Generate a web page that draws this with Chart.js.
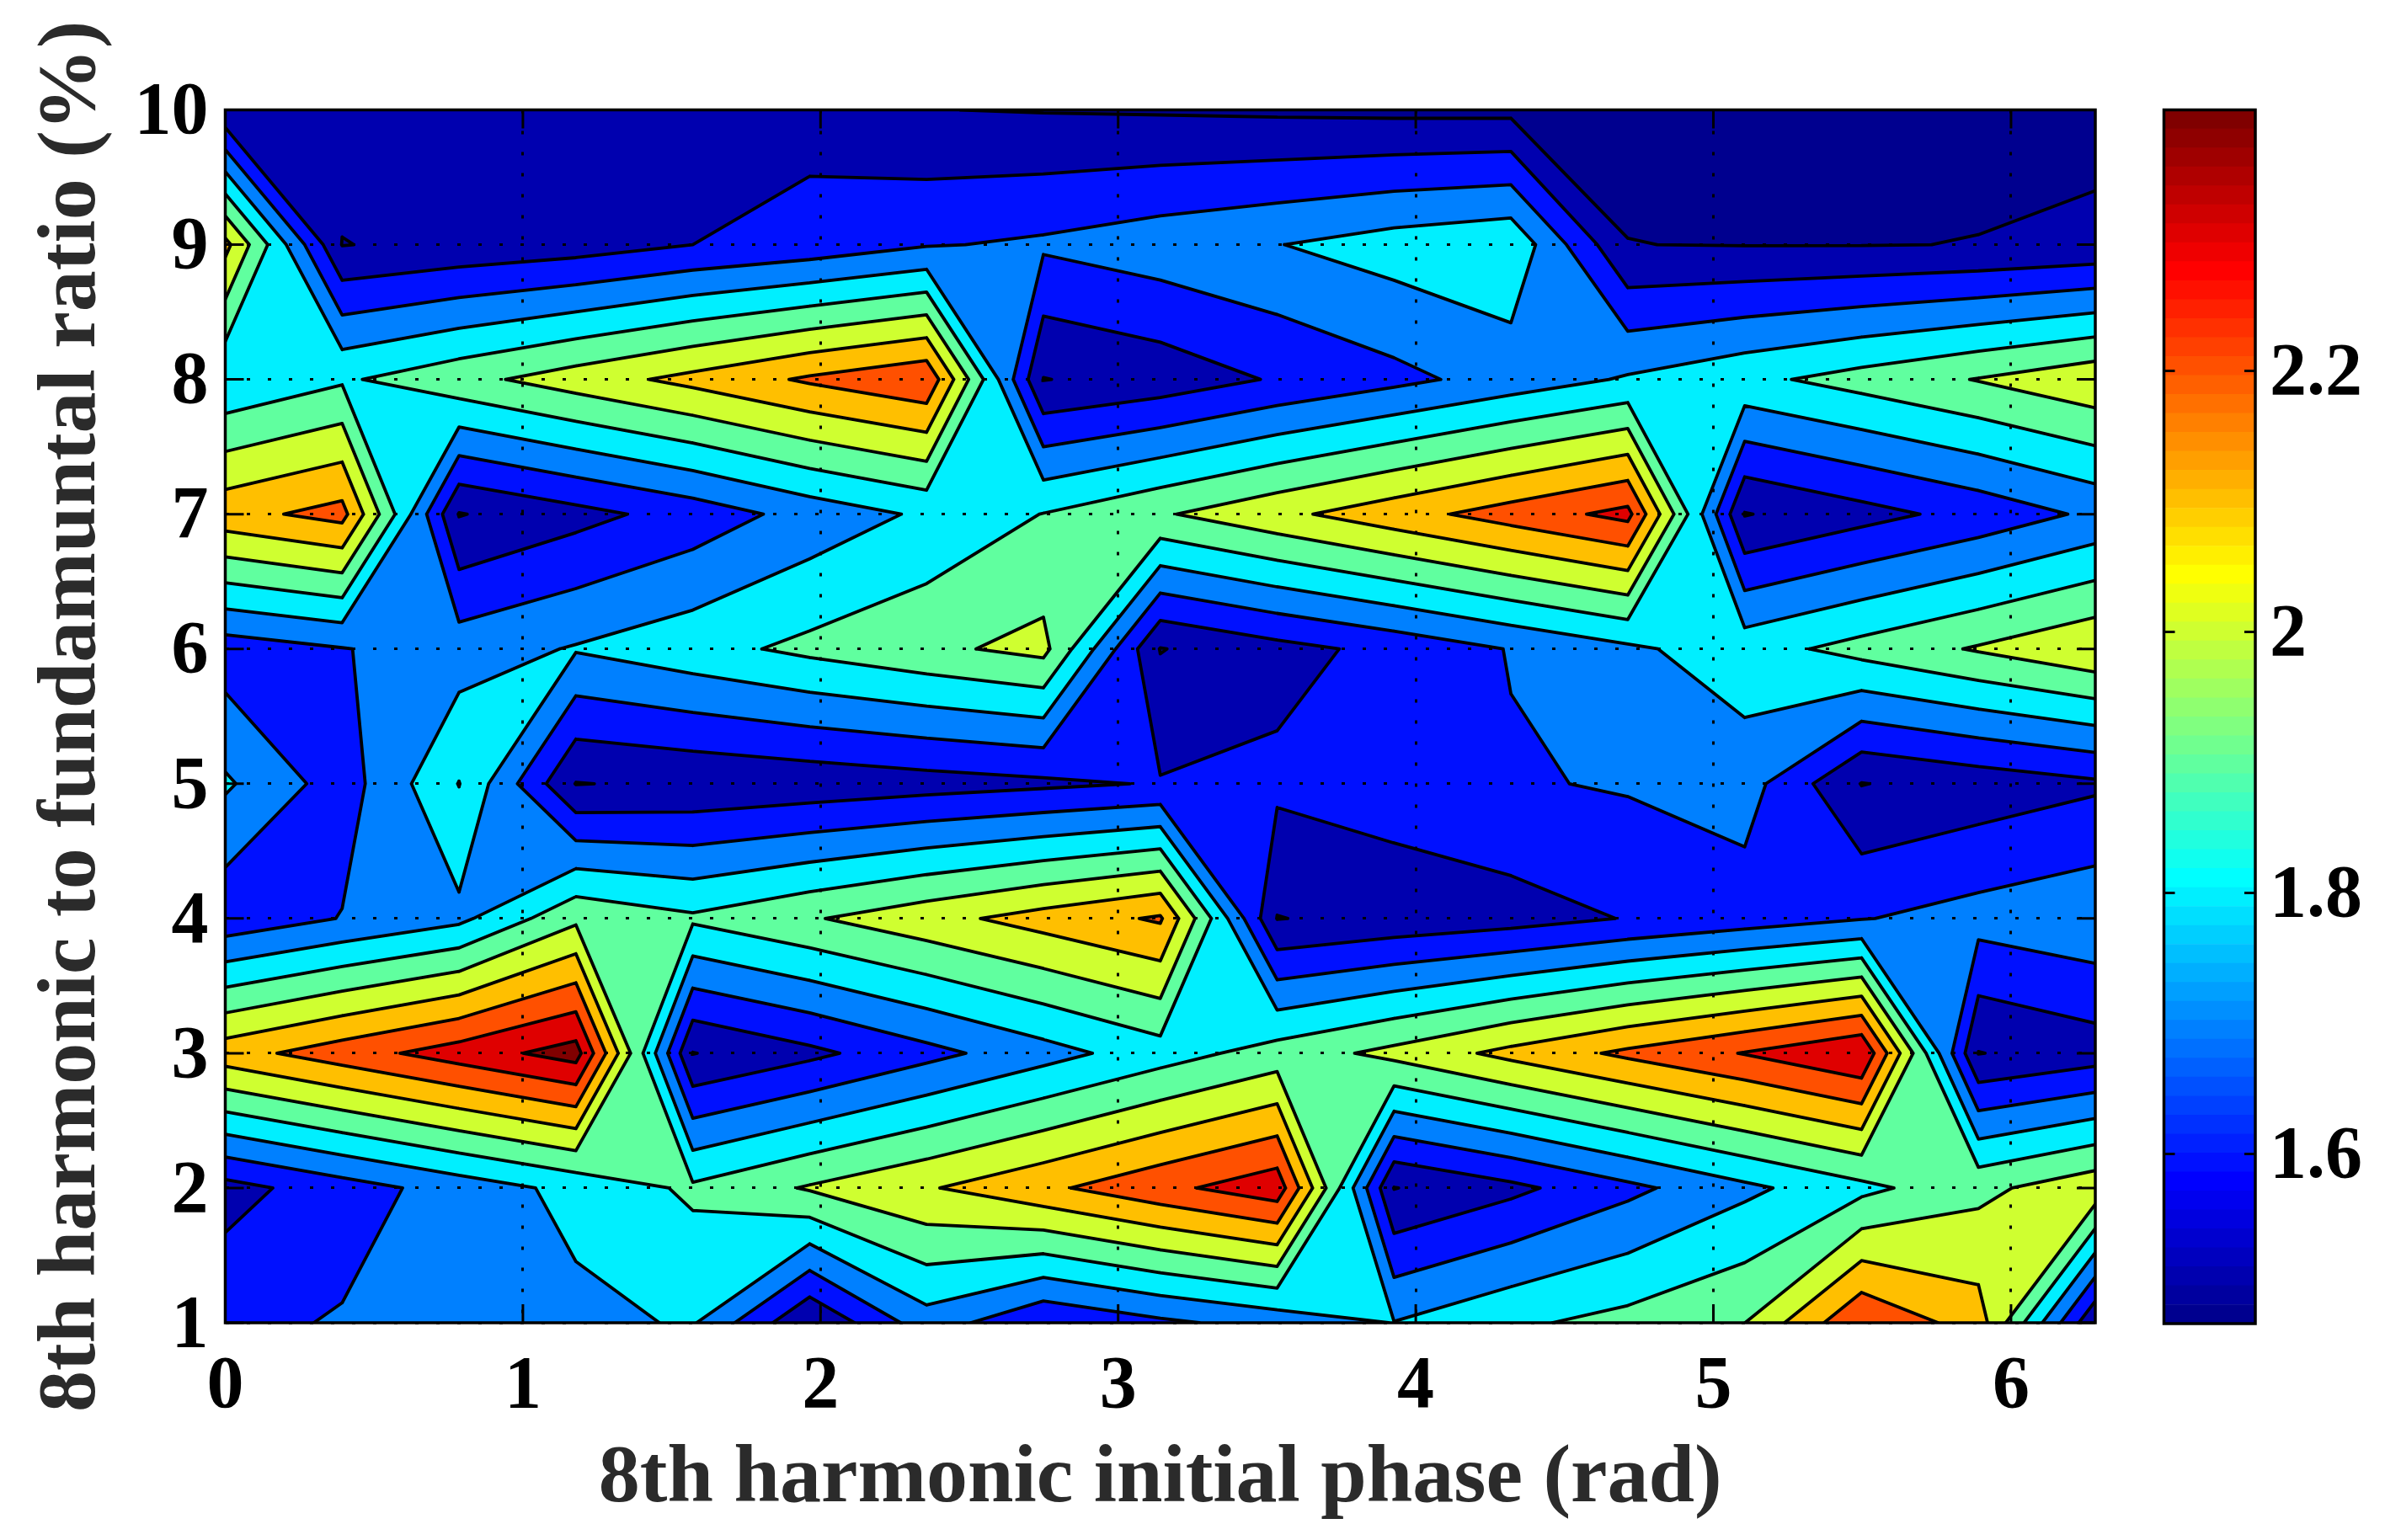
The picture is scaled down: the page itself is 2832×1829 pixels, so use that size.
<!DOCTYPE html>
<html>
<head>
<meta charset="utf-8">
<title>8th harmonic contour</title>
<script src="https://cdn.jsdelivr.net/npm/chart.js@4"></script>
<style>
  html, body { margin: 0; padding: 0; background: #fff; }
  canvas { position: absolute; left: 0; top: 0; }
</style>
</head>
<body>
<canvas id="contour" width="2832" height="1829"></canvas>
<canvas id="colorbar" width="2832" height="1829"></canvas>
<script>
const phases = [0, 0.3927, 0.7854, 1.1781, 1.5708, 1.9635, 2.3562, 2.7489, 3.1416, 3.5343, 3.927, 4.3197, 4.7124, 5.1051, 5.4978, 5.8905, 6.2832];
const ratios = [1, 2, 3, 4, 5, 6, 7, 8, 9, 10];

const ratio1 = [1.675, 1.708, 1.742, 1.775, 1.81, 1.503, 1.756, 1.608, 1.68, 1.74, 1.803, 1.882, 1.933, 1.999, 2.295, 2.15, 1.51];
const ratio2 = [1.563, 1.654, 1.743, 1.83, 1.918, 2.01, 2.09, 2.178, 2.272, 2.362, 1.497, 1.575, 1.675, 1.777, 1.872, 1.973, 2.067];
const ratio3 = [2.158, 2.253, 2.348, 2.443, 1.497, 1.576, 1.669, 1.761, 1.854, 1.943, 2.029, 2.129, 2.221, 2.305, 2.397, 1.497, 1.55];
const ratio4 = [1.63, 1.704, 1.775, 1.978, 1.917, 1.99, 2.065, 2.141, 2.213, 1.497, 1.53, 1.558, 1.605, 1.649, 1.695, 1.738, 1.775];
const ratio5 = [1.815, 1.65, 1.903, 1.497, 1.516, 1.535, 1.558, 1.58, 1.607, 1.622, 1.655, 1.69, 1.71, 1.745, 1.497, 1.54, 1.583];
const ratio6 = [1.645, 1.695, 1.751, 1.808, 1.864, 1.925, 1.978, 2.03, 1.496, 1.566, 1.63, 1.705, 1.78, 1.857, 1.935, 2.01, 2.086];
const ratio7 = [2.165, 2.235, 1.495, 1.567, 1.642, 1.738, 1.817, 1.903, 1.988, 2.074, 2.159, 2.245, 2.33, 1.495, 1.565, 1.635, 1.72];
const ratio8 = [1.81, 1.886, 1.967, 2.05, 2.13, 2.215, 2.283, 1.497, 1.54, 1.61, 1.672, 1.742, 1.811, 1.874, 1.939, 2.005, 2.075];
const ratio9 = [2.13, 1.497, 1.527, 1.552, 1.6, 1.636, 1.692, 1.716, 1.757, 1.797, 1.846, 1.88, 1.501, 1.497, 1.497, 1.502, 1.52];
const ratio10 = [1.52, 1.55, 1.55, 1.55, 1.55, 1.565, 1.502, 1.495, 1.49, 1.483, 1.477, 1.475, 1.48, 1.475, 1.475, 1.475, 1.47];
const grid = [ratio1, ratio2, ratio3, ratio4, ratio5, ratio6, ratio7, ratio8, ratio9, ratio10];

const levels = [1.5, 1.6, 1.7, 1.8, 1.9, 2, 2.1, 2.2, 2.3, 2.4];
const xTicks = [0, 1, 2, 3, 4, 5, 6];
const colorbarTicks = [1.6, 1.8, 2, 2.2];
const colorMin = 1.47;
const colorMax = 2.4;

// saddle cells [col, row, level] where the picture joins the high corners although the mean is low
const joinedSaddles = [[2, 4, 1.8], [15, 0, 2]];

const FONT = '"Liberation Serif", "Times New Roman", serif';

// matlab jet colormap, 64 steps
function jet(i) {
  const v = (i + 1) / 64;
  const ch = (a, b) => Math.round(255 * Math.max(0, Math.min(1, a, b)));
  return 'rgb(' + ch(4 * v - 1.5, -4 * v + 4.5) + ',' + ch(4 * v - 0.5, -4 * v + 3.5) + ',' + ch(4 * v + 0.5, -4 * v + 2.5) + ')';
}

function levelColor(value) {
  const i = Math.floor((value - colorMin) / (colorMax - colorMin) * 64 + 1e-9);
  return jet(Math.max(0, Math.min(63, i)));
}

// one grid cell at one level: the filled polygons and the line segments, in data coords
function cellContour(col, row, level) {
  const corners = [
    { x: phases[col], y: ratios[row], z: grid[row][col] },
    { x: phases[col + 1], y: ratios[row], z: grid[row][col + 1] },
    { x: phases[col + 1], y: ratios[row + 1], z: grid[row + 1][col + 1] },
    { x: phases[col], y: ratios[row + 1], z: grid[row + 1][col] },
  ];
  const outline = [];
  const cross = [];
  corners.forEach((p, k) => {
    const q = corners[(k + 1) % 4];
    if (p.z >= level) outline.push(p);
    if ((p.z >= level) !== (q.z >= level)) {
      const t = (level - p.z) / (q.z - p.z);
      const c = { x: p.x + t * (q.x - p.x), y: p.y + t * (q.y - p.y) };
      outline.push(c);
      cross.push(c);
    }
  });
  if (cross.length === 0) return { polys: outline.length ? [outline] : [], segs: [] };
  if (cross.length === 2) return { polys: [outline], segs: [[cross[0], cross[1]]] };

  // saddle cell, settled by the cell mean unless listed above
  const mean = (corners[0].z + corners[1].z + corners[2].z + corners[3].z) / 4;
  const joined = mean >= level || joinedSaddles.some(s => s[0] === col && s[1] === row && s[2] === level);
  const firstHigh = corners[0].z >= level;
  const around = firstHigh
    ? [[cross[3], corners[0], cross[0]], [cross[1], corners[2], cross[2]]]
    : [[cross[0], corners[1], cross[1]], [cross[2], corners[3], cross[3]]];
  if (joined) {
    const segs = firstHigh
      ? [[cross[0], cross[1]], [cross[2], cross[3]]]
      : [[cross[1], cross[2]], [cross[3], cross[0]]];
    return { polys: [outline], segs };
  }
  return { polys: around, segs: around.map(t => [t[0], t[2]]) };
}

function contourLines() {
  const points = [];
  levels.forEach(level => {
    for (let row = 0; row < ratios.length - 1; row++) {
      for (let col = 0; col < phases.length - 1; col++) {
        cellContour(col, row, level).segs.forEach(s => {
          points.push({ x: s[0].x, y: s[0].y }, { x: s[1].x, y: s[1].y }, { x: NaN, y: NaN });
        });
      }
    }
  });
  return points;
}

const contourFill = {
  id: 'contourFill',
  beforeDatasetsDraw(chart) {
    const { ctx, scales: { x, y }, chartArea: a } = chart;
    ctx.save();
    ctx.fillStyle = jet(0);
    ctx.fillRect(a.left, a.top, a.right - a.left, a.bottom - a.top);
    levels.forEach(level => {
      ctx.beginPath();
      for (let row = 0; row < ratios.length - 1; row++) {
        for (let col = 0; col < phases.length - 1; col++) {
          cellContour(col, row, level).polys.forEach(poly => {
            poly.forEach((p, i) => {
              const px = x.getPixelForValue(p.x);
              const py = y.getPixelForValue(p.y);
              if (i === 0) ctx.moveTo(px, py);
              else ctx.lineTo(px, py);
            });
            ctx.closePath();
          });
        }
      }
      ctx.fillStyle = levelColor(level);
      ctx.fill();
    });
    ctx.restore();
  }
};

// matlab style box: ticks point inwards on all four sides
const boxFrame = {
  id: 'boxFrame',
  afterDraw(chart, args, opts) {
    const { ctx, chartArea: a, scales } = chart;
    ctx.save();
    ctx.strokeStyle = '#000';
    ctx.lineWidth = 3;
    ctx.beginPath();
    if (scales.x && scales.x.options.display) {
      scales.x.ticks.forEach(t => {
        const px = scales.x.getPixelForValue(t.value);
        ctx.moveTo(px, a.top); ctx.lineTo(px, a.top + opts.len);
        ctx.moveTo(px, a.bottom); ctx.lineTo(px, a.bottom - opts.len);
      });
    }
    scales.y.ticks.forEach(t => {
      const py = scales.y.getPixelForValue(t.value);
      ctx.moveTo(a.left, py); ctx.lineTo(a.left + opts.len, py);
      ctx.moveTo(a.right, py); ctx.lineTo(a.right - opts.len, py);
    });
    ctx.stroke();
    ctx.lineWidth = 3.5;
    ctx.strokeRect(a.left, a.top, a.right - a.left, a.bottom - a.top);
    ctx.restore();
  }
};

new Chart(document.getElementById('contour'), {
  type: 'scatter',
  plugins: [contourFill, boxFrame],
  data: {
    datasets: [{
      label: 'contours',
      data: contourLines(),
      showLine: true,
      spanGaps: false,
      pointRadius: 0,
      borderColor: '#000',
      borderWidth: 3.8,
      borderCapStyle: 'round',
      tension: 0,
    }]
  },
  options: {
    responsive: false,
    animation: false,
    devicePixelRatio: 1,
    layout: { autoPadding: false, padding: { top: 130.5, right: 344, left: 0, bottom: 0 } },
    plugins: {
      legend: { display: false },
      tooltip: { enabled: false },
      boxFrame: { len: 22 },
    },
    scales: {
      x: {
        type: 'linear',
        min: phases[0],
        max: phases[phases.length - 1],
        afterFit: s => { s.height = 258; },
        afterBuildTicks: s => { s.ticks = xTicks.map(v => ({ value: v })); },
        grid: { color: '#000', lineWidth: 3, z: 1, drawTicks: false },
        border: { display: false, dash: [4, 21] },
        ticks: { color: '#000', padding: 33, maxRotation: 0, autoSkip: false, font: { family: FONT, weight: 'bold', size: 88, lineHeight: 1 } },
        title: {
          display: true,
          text: '8th harmonic initial phase (rad)',
          color: '#2b2b2b',
          font: { family: FONT, weight: 'bold', size: 98, lineHeight: 1 },
          padding: { top: 0, bottom: 22 },
        },
      },
      y: {
        type: 'linear',
        min: ratios[0],
        max: ratios[ratios.length - 1],
        afterFit: s => { s.width = 267.5; },
        afterBuildTicks: s => { s.ticks = ratios.map(v => ({ value: v })); },
        grid: { color: '#000', lineWidth: 3, z: 1, drawTicks: false },
        border: { display: false, dash: [4, 21] },
        ticks: { color: '#000', padding: 20, labelOffset: 5, autoSkip: false, font: { family: FONT, weight: 'bold', size: 88, lineHeight: 1 } },
        title: {
          display: true,
          text: '8th harmonic to fundamuntal ratio (%)',
          color: '#2b2b2b',
          font: { family: FONT, weight: 'bold', size: 98, lineHeight: 1 },
          padding: { top: 38, bottom: 0 },
        },
      },
    },
  },
});

const colorBands = Array.from({ length: 64 }, (_, i) => i);

new Chart(document.getElementById('colorbar'), {
  type: 'bar',
  plugins: [boxFrame],
  data: {
    labels: [''],
    datasets: colorBands.map(i => ({
      data: [[colorMin + i * (colorMax - colorMin) / 64, colorMin + (i + 1) * (colorMax - colorMin) / 64]],
      backgroundColor: jet(i),
      borderWidth: 0,
      barPercentage: 1,
      categoryPercentage: 1,
      grouped: false,
    }))
  },
  options: {
    responsive: false,
    animation: false,
    devicePixelRatio: 1,
    layout: { autoPadding: false, padding: { top: 130.5, left: 2569.5, right: 0, bottom: 257 } },
    plugins: {
      legend: { display: false },
      tooltip: { enabled: false },
      boxFrame: { len: 13 },
    },
    scales: {
      x: { display: false },
      y: {
        position: 'right',
        min: colorMin,
        max: colorMax,
        afterFit: s => { s.width = 154; },
        afterBuildTicks: s => { s.ticks = colorbarTicks.map(v => ({ value: v })); },
        grid: { display: false, drawTicks: false },
        border: { display: false },
        ticks: {
          color: '#000',
          padding: 17,
          labelOffset: 5,
          autoSkip: false,
          callback: v => String(v),
          font: { family: FONT, weight: 'bold', size: 88, lineHeight: 1 },
        },
      },
    },
  },
});
</script>
</body>
</html>
